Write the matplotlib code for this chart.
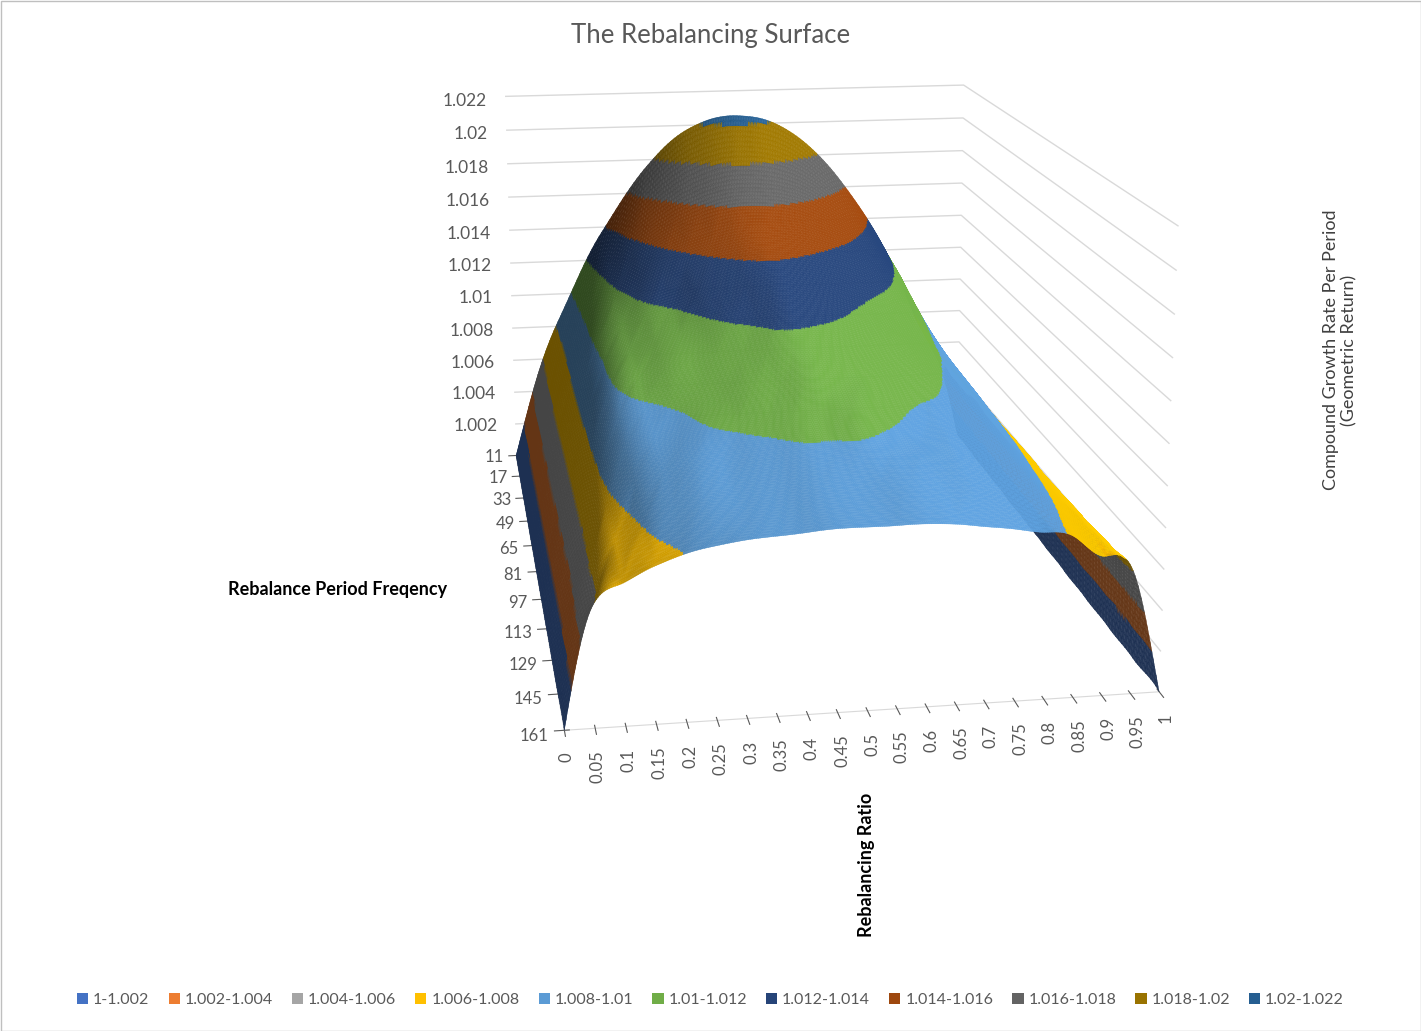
import matplotlib

matplotlib.use("Agg")
import matplotlib.pyplot as plt
import numpy as np
from matplotlib import tri
from matplotlib.colors import BoundaryNorm, ListedColormap
from matplotlib.patches import Patch, Rectangle
from mpl_toolkits.mplot3d.art3d import Poly3DCollection

plt.rcParams["font.family"] = ["Lato", "DejaVu Sans"]

# rebalancing ratio (categories along the front edge)
RATIOS = [0, 0.05, 0.1, 0.15, 0.2, 0.25, 0.3, 0.35, 0.4, 0.45, 0.5,
          0.55, 0.6, 0.65, 0.7, 0.75, 0.8, 0.85, 0.9, 0.95, 1]
# rebalance period (series, back to front)
PERIODS = [11, 17, 33, 49, 65, 81, 97, 113, 129, 145, 161]
PERIOD_LABELS = [str(p) for p in PERIODS]

# compound growth rate per period, one row per period
G_11 = [1.0000, 1.0048, 1.0083, 1.0112, 1.0137, 1.0158, 1.0176, 1.0190, 1.0199, 1.0204, 1.0205,
        1.0203, 1.0197, 1.0187, 1.0173, 1.0155, 1.0134, 1.0108, 1.0076, 1.0050, 1.0000]
G_17 = [1.0000, 1.0050, 1.0081, 1.0107, 1.0125, 1.0138, 1.0148, 1.0156, 1.0162, 1.0166, 1.0167,
        1.0166, 1.0163, 1.0157, 1.0149, 1.0139, 1.0125, 1.0103, 1.0074, 1.0050, 1.0000]
G_33 = [1.0000, 1.0051, 1.0081, 1.0104, 1.0118, 1.0127, 1.0134, 1.0139, 1.0143, 1.0146, 1.0147,
        1.0146, 1.0144, 1.0140, 1.0135, 1.0127, 1.0116, 1.0097, 1.0073, 1.0050, 1.0000]
G_49 = [1.0000, 1.0052, 1.0082, 1.0102, 1.0111, 1.0117, 1.0121, 1.0126, 1.0130, 1.0133, 1.0135,
        1.0134, 1.0131, 1.0127, 1.0121, 1.0115, 1.0107, 1.0093, 1.0073, 1.0051, 1.0000]
G_65 = [1.0000, 1.0052, 1.0082, 1.0100, 1.0107, 1.0111, 1.0114, 1.0117, 1.0120, 1.0122, 1.0124,
        1.0123, 1.0121, 1.0117, 1.0113, 1.0108, 1.0102, 1.0091, 1.0072, 1.0051, 1.0000]
G_81 = [1.0000, 1.0052, 1.0082, 1.0099, 1.0104, 1.0107, 1.0109, 1.0111, 1.0113, 1.0115, 1.0116,
        1.0115, 1.0113, 1.0110, 1.0107, 1.0104, 1.0099, 1.0090, 1.0072, 1.0051, 1.0000]
G_97 = [1.0000, 1.0052, 1.0081, 1.0095, 1.0099, 1.0101, 1.0103, 1.0105, 1.0107, 1.0108, 1.0109,
        1.0108, 1.0107, 1.0105, 1.0102, 1.0100, 1.0096, 1.0088, 1.0072, 1.0052, 1.0000]
G_113 = [1.0000, 1.0052, 1.0080, 1.0092, 1.0096, 1.0098, 1.0100, 1.0101, 1.0102, 1.0103, 1.0103,
         1.0103, 1.0102, 1.0100, 1.0098, 1.0096, 1.0093, 1.0086, 1.0071, 1.0052, 1.0000]
G_129 = [1.0000, 1.0052, 1.0077, 1.0087, 1.0092, 1.0095, 1.0096, 1.0097, 1.0098, 1.0099, 1.0099,
         1.0099, 1.0098, 1.0097, 1.0096, 1.0094, 1.0091, 1.0083, 1.0071, 1.0053, 1.0000]
G_145 = [1.0000, 1.0055, 1.0073, 1.0081, 1.0086, 1.0089, 1.0090, 1.0091, 1.0092, 1.0093, 1.0093,
         1.0093, 1.0093, 1.0092, 1.0091, 1.0089, 1.0086, 1.0080, 1.0070, 1.0055, 1.0000]
G_161 = [1.0000, 1.0058, 1.0068, 1.0075, 1.0080, 1.0083, 1.0085, 1.0086, 1.0087, 1.0088, 1.0088,
         1.0088, 1.0088, 1.0087, 1.0085, 1.0083, 1.0081, 1.0077, 1.0068, 1.0058, 1.0000]
GROWTH = [G_11, G_17, G_33, G_49, G_65, G_81, G_97, G_113, G_129, G_145, G_161]

BAND_EDGES = [1.000, 1.002, 1.004, 1.006, 1.008, 1.010, 1.012, 1.014, 1.016, 1.018, 1.020, 1.022]
BAND_LABELS = ["1-1.002", "1.002-1.004", "1.004-1.006", "1.006-1.008", "1.008-1.01",
               "1.01-1.012", "1.012-1.014", "1.014-1.016", "1.016-1.018", "1.018-1.02",
               "1.02-1.022"]
BAND_COLORS = ["#4472C4", "#ED7D31", "#A5A5A5", "#FFC000", "#5B9BD5", "#70AD47",
               "#264478", "#9E480E", "#636363", "#997300", "#255E91"]
Z_TICKS = [1.002, 1.004, 1.006, 1.008, 1.010, 1.012, 1.014, 1.016, 1.018, 1.020, 1.022]

TEXT = "#595959"
GRID = "#D9D9D9"
ELEV, AZIM = 15, -99.2
ZOOM, FOCAL = 1.265, 0.565
ASPECT = (1.0, 1.52, 0.8)

fig = plt.figure(figsize=(14.21, 10.31), dpi=100)
ax = fig.add_axes([0.2696, 0.253, 0.563, 0.776], projection="3d")
ax.set_facecolor((1, 1, 1, 0))

# grid: front row (161) nearest to the viewer at y=0, back row (11) at y=1
n_rows, n_cols = len(PERIODS), len(RATIOS)
ypos = np.linspace(1, 0, n_rows)
z_front_first = np.array(GROWTH)[::-1]
xx, yy = np.meshgrid(np.array(RATIOS, dtype=float), ypos[::-1])
idx = np.arange(n_rows * n_cols).reshape(n_rows, n_cols)
a, b = idx[:-1, :-1].ravel(), idx[:-1, 1:].ravel()
c, d = idx[1:, 1:].ravel(), idx[1:, :-1].ravel()
triangles = np.concatenate([np.column_stack([a, b, c]), np.column_stack([a, c, d])])
triang = tri.Triangulation(xx.ravel(), yy.ravel(), triangles)
fine_tri, fine_z = tri.UniformTriRefiner(triang).refine_field(z_front_first.ravel(), subdiv=4)

t = fine_tri.triangles
verts = np.stack([fine_tri.x[t], fine_tri.y[t], fine_z[t]], axis=-1)

cmap = ListedColormap(BAND_COLORS)
norm = BoundaryNorm(BAND_EDGES, cmap.N, clip=True)
base = cmap(norm(np.clip(verts[:, :, 2].mean(axis=1), 1.0, 1.0219)))[:, :3]

# simple two-sided lighting in box-scaled coordinates (Excel style shading)
zlo, zhi = BAND_EDGES[0], BAND_EDGES[-1]
sc = verts.copy()
sc[:, :, 0] *= ASPECT[0]
sc[:, :, 1] *= ASPECT[1]
sc[:, :, 2] = (sc[:, :, 2] - zlo) / (zhi - zlo) * ASPECT[2]
nrm = np.cross(sc[:, 1] - sc[:, 0], sc[:, 2] - sc[:, 0])
nrm /= np.linalg.norm(nrm, axis=1, keepdims=True)
nrm[nrm[:, 2] < 0] *= -1  # upper side of the sheet
er, ar = np.deg2rad(ELEV), np.deg2rad(AZIM)
look = np.array([np.cos(er) * np.cos(ar), np.cos(er) * np.sin(ar), np.sin(er)])
kscale = 1.906 * ZOOM / np.linalg.norm(ASPECT)
eye = 0.5 * np.array(ASPECT) + 10 * FOCAL / kscale * look
view = eye - sc.mean(axis=1)
view /= np.linalg.norm(view, axis=1, keepdims=True)
nrm[np.sum(nrm * view, axis=1) < -0.1] *= -1  # underside seen below the front edge
light = np.array([0.8, -0.2, 0.6])
light /= np.linalg.norm(light)
fac = np.clip(0.61 + 0.66 * (nrm @ light), 0.42, 1.06)
face = np.clip(base * fac[:, None], 0, 1)

surf = Poly3DCollection(verts, facecolors=face, edgecolors=face, linewidths=0.25)
ax.add_collection3d(surf)

ax.set_xlim(0, 1)
ax.set_ylim(0, 1)
ax.set_zlim(zlo, zhi)
ax.set_box_aspect(ASPECT, zoom=ZOOM)
ax.view_init(elev=ELEV, azim=AZIM)
ax.set_proj_type("persp", focal_length=FOCAL)

ax.set_xticks(RATIOS, labels=[f"{r:g}" for r in RATIOS])
ax.set_yticks(ypos, labels=PERIOD_LABELS)
ax.set_zticks(Z_TICKS, labels=[f"{v:g}" for v in Z_TICKS])
ax.tick_params(axis="x", labelrotation=90, labelsize=12, colors=TEXT, pad=0)
ax.tick_params(axis="y", labelsize=12, colors=TEXT, pad=0)
ax.tick_params(axis="z", labelsize=12.5, colors=TEXT, pad=3)
for lbl in ax.get_yticklabels():
    lbl.set_ha("right")
    lbl.set_va("bottom")
for lbl in ax.get_zticklabels():
    lbl.set_ha("right")

for axis in (ax.xaxis, ax.yaxis, ax.zaxis):
    axis.set_pane_color((1, 1, 1, 0))
    axis.pane.set_edgecolor((1, 1, 1, 0))
    axis.line.set_color(GRID)
    axis._axinfo["tick"].update(color=GRID)
ax.zaxis.line.set_color((1, 1, 1, 0))
ax.zaxis._axinfo["tick"].update(inward_factor=0, outward_factor=0)
ax.xaxis._axinfo["grid"].update(linewidth=0)
ax.yaxis._axinfo["grid"].update(linewidth=0)
ax.zaxis._axinfo["grid"].update(color=GRID, linewidth=1.0)

fig.text(0.5, 1 - 35 / 1031, "The Rebalancing Surface", ha="center", va="center",
         fontsize=18.5, color=TEXT)
fig.text(338 / 1421, 1 - 590 / 1031, "Rebalance Period Freqency", ha="center",
         va="center", fontsize=13, fontweight="bold", color="black")
fig.text(866 / 1421, 1 - 865 / 1031, "Rebalancing Ratio", ha="center", va="center",
         rotation=90, fontsize=13, fontweight="bold", color="black")
fig.text(1340 / 1421, 1 - 350 / 1031, "Compound Growth Rate Per Period\n(Geometric Return)",
         ha="center", va="center", rotation=90, multialignment="center", fontsize=13,
         color="#404040")

handles = [Patch(facecolor=col, edgecolor="none") for col in BAND_COLORS]
fig.legend(handles, BAND_LABELS, loc="center", bbox_to_anchor=(0.5, 1 - 1000 / 1031),
           ncol=len(BAND_LABELS), frameon=False, fontsize=11.5, labelcolor=TEXT,
           handlelength=0.7, handleheight=0.7, handletextpad=0.3, columnspacing=1.2)

# chart-area border
fig.add_artist(Rectangle((0.5 / 1421, 0.5 / 1031), 1 - 1 / 1421, 1 - 1 / 1031,
                         transform=fig.transFigure, fill=False, edgecolor="#BFBFBF",
                         linewidth=1, zorder=10))

fig.savefig("out.png", dpi=100)
